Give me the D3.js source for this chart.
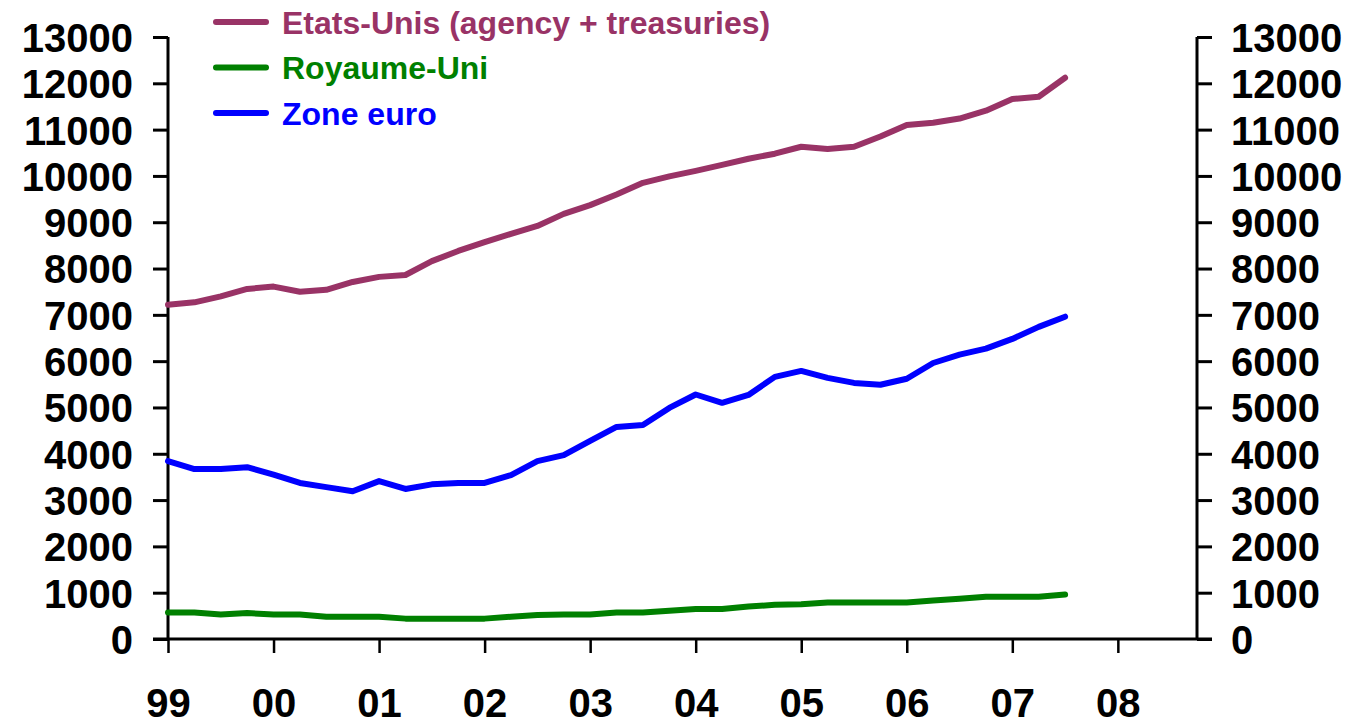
<!DOCTYPE html>
<html><head><meta charset="utf-8">
<script src="https://cdn.jsdelivr.net/npm/d3@7"></script>
<style>
html,body{margin:0;padding:0;background:#fff;}
svg text{font-family:"Liberation Sans",Arial,sans-serif;font-weight:bold;}
</style></head>
<body><svg id="c" width="1354" height="724"></svg>
<script>
// Quarterly data, 1999Q1 .. 2007Q3
const quarters = d3.range(35);
const usValues = [7220,7270,7400,7560,7610,7500,7540,7710,7820,7860,8160,8380,8570,8750,8920,9180,9370,9600,9850,9990,10110,10240,10370,10480,10630,10580,10630,10850,11100,11150,11240,11410,11660,11710,12120];
const ukValues = [570,570,530,560,530,530,480,480,480,440,440,440,440,480,520,530,530,570,570,610,650,650,700,740,750,790,790,790,790,830,870,910,910,910,960];
const euroValues = [3840,3670,3670,3710,3550,3370,3280,3190,3410,3240,3340,3370,3370,3540,3840,3970,4280,4580,4620,4990,5280,5100,5270,5660,5790,5640,5530,5490,5620,5960,6140,6270,6480,6740,6960];
const yearLabels = ["99","00","01","02","03","04","05","06","07","08"];
const yTicks = d3.range(0,13001,1000);
const seriesNames = ["Etats-Unis (agency + treasuries)","Royaume-Uni","Zone euro"];
const seriesColors = ["#993366","#008000","#0000FF"];

const svg = d3.select("#c");
const x = d3.scaleLinear().domain([0,39]).range([168,1197]);
const y = d3.scaleLinear().domain([0,13000]).range([639,37]);

const gL = svg.append("g").attr("transform","translate(168,0)")
  .call(d3.axisLeft(y).tickValues(yTicks).tickSize(15).tickPadding(20).tickFormat(d3.format("d")));
const gR = svg.append("g").attr("transform","translate(1197,0)")
  .call(d3.axisRight(y).tickValues(yTicks).tickSize(15).tickPadding(19).tickFormat(d3.format("d")));
[gL,gR].forEach(g=>{
  g.select(".domain").attr("stroke","#000").attr("stroke-width",3).attr("d", `M0,${y(13000)}V${y(0)}`);
  g.selectAll(".tick line").attr("stroke","#000").attr("stroke-width",3);
  g.selectAll(".tick text").attr("fill","#000").style("font-size","40px").attr("dy","0.36em");
});
const gX = svg.append("g").attr("transform",`translate(0,${y(0)})`)
  .call(d3.axisBottom(x).tickValues(d3.range(0,37,4)).tickSize(14).tickPadding(36)
    .tickFormat((d,i)=>yearLabels[i]));
gX.select(".domain").attr("stroke","#000").attr("stroke-width",3).attr("d","M153,0H1212");
gX.selectAll(".tick line").attr("stroke","#000").attr("stroke-width",2.5);
gX.selectAll(".tick text").attr("fill","#000").style("font-size","40px");

const line = d3.line().x((d,i)=>x(i)).y(d=>y(d));
[usValues,ukValues,euroValues].forEach((vals,k)=>{
  svg.append("path").datum(vals).attr("d",line).attr("fill","none")
    .attr("stroke",seriesColors[k]).attr("stroke-width",6)
    .attr("stroke-linejoin","round").attr("stroke-linecap","round");
});

const lg = svg.append("g");
seriesNames.forEach((n,k)=>{
  const yy = 22 + k*45.5;
  lg.append("line").attr("x1",216).attr("x2",266).attr("y1",yy).attr("y2",yy)
    .attr("stroke",seriesColors[k]).attr("stroke-width",6).attr("stroke-linecap","round");
  lg.append("text").attr("x",282).attr("y",yy).attr("dy","0.36em")
    .attr("fill",seriesColors[k]).style("font-size","32px").text(n);
});
</script></body></html>
